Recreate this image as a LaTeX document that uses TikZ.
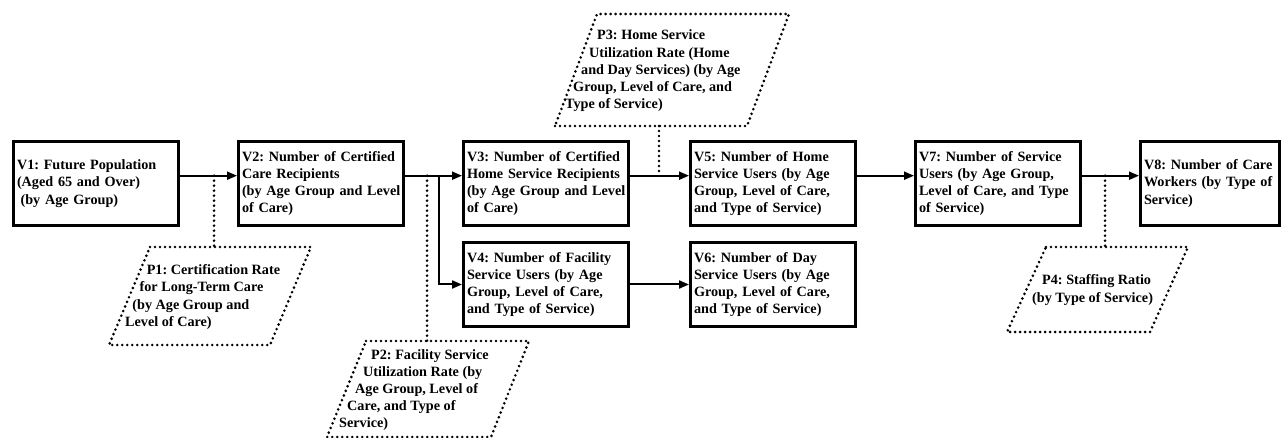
\documentclass[tikz,border=0pt]{standalone}
\usepackage{fontspec}
\setmainfont{Liberation Serif}
\usetikzlibrary{arrows.meta}
\newcommand{\Lx}[1]{\mbox{#1}}
\begin{document}
\begin{tikzpicture}[x=1pt,y=-1pt,
  txt/.style={font=\fontsize{14.2}{17.2}\selectfont\bfseries\frenchspacing},
  vbox/.style={txt, draw, line width=2.6pt, rectangle, minimum width=165.4pt, minimum height=84.4pt, inner xsep=3.7pt, inner ysep=0pt, text width=158pt, align=left},
  arr/.style={line width=2pt, -{Triangle[length=10pt,width=8pt]}},
  dotline/.style={line width=2.9pt, dash pattern=on 0pt off 5pt, line cap=round},
  ptext/.style={txt, align=left, inner sep=0pt, anchor=west}
]
\useasboundingbox (0,0) rectangle (1283,438);

% variable boxes
\node[vbox] (V1) at (96,183.5) {\Lx{V1: Future Population}\\\Lx{(Aged 65 and Over)}\\\hspace*{3.6pt}\Lx{(by Age Group)}};
\node[vbox] (V2) at (321,183.5) {\Lx{V2: Number of Certified}\\\Lx{Care Recipients}\\\Lx{(by Age Group and Level}\\\Lx{of Care)}};
\node[vbox] (V3) at (546,183.5) {\Lx{V3: Number of Certified}\\\Lx{Home Service Recipients}\\\Lx{(by Age Group and Level}\\\Lx{of Care)}};
\node[vbox] (V4) at (546,284.5) {\Lx{V4: Number of Facility}\\\Lx{Service Users (by Age}\\\Lx{Group, Level of Care,}\\\Lx{and Type of Service)}};
\node[vbox] (V5) at (773,183.5) {\Lx{V5: Number of Home}\\\Lx{Service Users (by Age}\\\Lx{Group, Level of Care,}\\\Lx{and Type of Service)}};
\node[vbox] (V6) at (773,284.5) {\Lx{V6: Number of Day}\\\Lx{Service Users (by Age}\\\Lx{Group, Level of Care,}\\\Lx{and Type of Service)}};
\node[vbox] (V7) at (998,183.5) {\Lx{V7: Number of Service}\\\Lx{Users (by Age Group,}\\\Lx{Level of Care, and Type}\\\Lx{of Service)}};
\node[vbox, minimum width=139.4pt, text width=132pt] (V8) at (1210,183.5) {\Lx{V8: Number of Care}\\\Lx{Workers (by Type of}\\\Lx{Service)}};

% parameter parallelograms
\draw[dotline] (150,247) coordinate (P1top) -- (311,247) -- (270,345) -- (109,345) -- cycle;
\draw[dotline] (366,341) coordinate (P2top) -- (529,341) -- (491,437) -- (327,437) -- cycle;
\draw[dotline] (555,126) coordinate (P3bot) -- (747,126) -- (789,14) -- (597,14) -- cycle;
\draw[dotline] (1046,247) coordinate (P4top) -- (1188,247) -- (1150,332) -- (1007,332) -- cycle;

\node[ptext] (P1) at (125,297) {\hspace*{21.6pt}P1: Certification Rate\\\hspace*{14.4pt}for Long-Term Care\\\hspace*{7.2pt}(by Age Group and\\Level of Care)};
\node[ptext] (P2) at (339,390) {\hspace*{32pt}P2: Facility Service\\\hspace*{24pt}Utilization Rate (by\\\hspace*{16pt}Age Group, Level of\\\hspace*{8pt}Care, and Type of\\Service)};
\node[ptext] (P3) at (565,71) {\hspace*{32pt}P3: Home Service\\\hspace*{24pt}Utilization Rate (Home\\\hspace*{16pt}and Day Services) (by Age\\\hspace*{8pt}Group, Level of Care, and\\Type of Service)};
\node[ptext] (P4) at (1032,290) {\hspace*{10pt}P4: Staffing Ratio\\(by Type of Service)};

% main flow
\coordinate (ya) at (0,175.7);
\draw[arr] (V1.east |- ya) -- (V2.west |- ya);
\draw[arr] (V2.east |- ya) -- (V3.west |- ya);
\coordinate (br) at (439,175.7);
\draw[arr] (br) |- (V4.west);
\draw[arr] (V3.east |- ya) -- (V5.west |- ya);
\draw[arr] (V4.east) -- (V6.west);
\draw[arr] (V5.east |- ya) -- (V7.west |- ya);
\draw[arr] (V7.east |- ya) -- (V8.west |- ya);

% dotted parameter links
\coordinate (d1) at (214,175.7);
\draw[dotline] (d1) -- (d1 |- P1top);
\coordinate (d2) at (427,175.7);
\draw[dotline] (d2) -- (d2 |- P2top);
\coordinate (d3) at (659,175.7);
\draw[dotline] (d3 |- P3bot) -- (d3);
\coordinate (d4) at (1105,175.7);
\draw[dotline] (d4) -- (d4 |- P4top);
\end{tikzpicture}
\end{document}
